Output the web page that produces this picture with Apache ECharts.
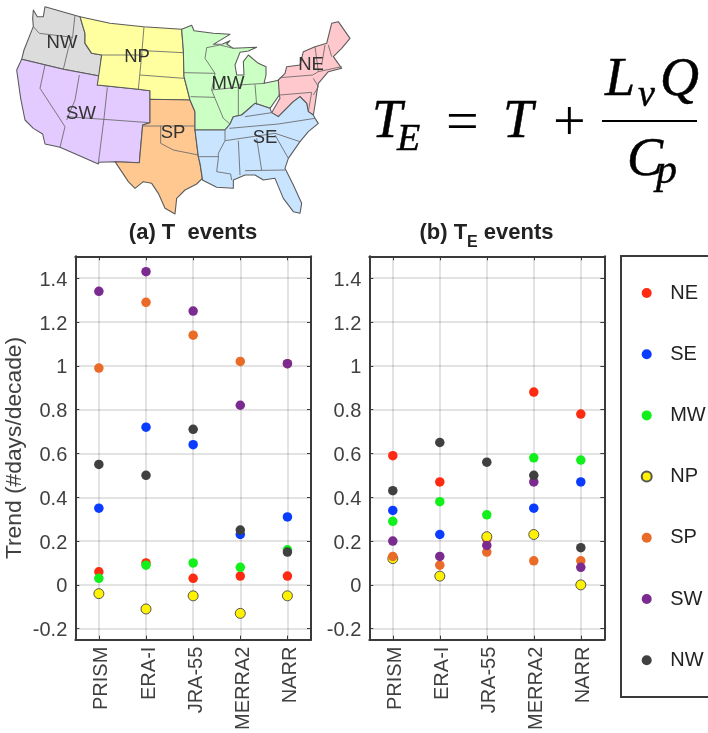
<!DOCTYPE html>
<html><head><meta charset="utf-8">
<style>html,body{margin:0;padding:0;background:#fff}#c{width:708px;height:733px;filter:blur(0.35px)}</style>
<script src="https://cdn.jsdelivr.net/npm/echarts@6/dist/echarts.min.js"></script>
</head><body><div id="c"></div>
<script>
// ---- data ----
const products = ['PRISM','ERA-I','JRA-55','MERRA2','NARR'];
const regions = ['NE','SE','MW','NP','SP','SW','NW'];
const yTicks = [-0.2,0,0.2,0.4,0.6,0.8,1,1.2,1.4];
const tNE = [0.06,0.10,0.03,0.04,0.04];
const tSE = [0.35,0.72,0.64,0.23,0.31];
const tMW = [0.03,0.09,0.10,0.08,0.16];
const tNP = [-0.04,-0.11,-0.05,-0.13,-0.05];
const tSP = [0.99,1.29,1.14,1.02,1.01];
const tSW = [1.34,1.43,1.25,0.82,1.01];
const tNW = [0.55,0.50,0.71,0.25,0.15];
const teNE = [0.59,0.47,0.21,0.88,0.78];
const teSE = [0.34,0.23,0.22,0.35,0.47];
const teMW = [0.29,0.38,0.32,0.58,0.57];
const teNP = [0.12,0.04,0.22,0.23,0.00];
const teSP = [0.13,0.09,0.15,0.11,0.11];
const teSW = [0.20,0.13,0.18,0.47,0.08];
const teNW = [0.43,0.65,0.56,0.50,0.17];
const colors = {NE:'#ff2a12',SE:'#0a3cff',MW:'#12f01c',NP:'#fff200',SP:'#ea6a28',SW:'#7b2a90',NW:'#404040'};
const panelA = {NE:tNE,SE:tSE,MW:tMW,NP:tNP,SP:tSP,SW:tSW,NW:tNW};
const panelB = {NE:teNE,SE:teSE,MW:teMW,NP:teNP,SP:teSP,SW:teSW,NW:teNW};

// ---- reference map illustration, outline points at 3x scale ----
const mapRegions = [
 {fill:'#dcdcdc',pts:[[100,30],[112,50],[130,50],[135,20],[240,50],[255,100],[255,130],[275,160],[305,165],[298,228],[190,208],[65,178],[72,150],[95,92],[100,80],[98,55]]},
 {fill:'#e3caff',pts:[[65,178],[190,208],[298,228],[292,255],[415,268],[450,272],[450,368],[428,375],[418,488],[345,485],[297,487],[295,492],[180,442],[135,432],[128,402],[100,385],[75,360],[62,295],[50,210]]},
 {fill:'#ffff9f',pts:[[240,50],[330,70],[430,80],[545,88],[550,150],[552,230],[570,300],[450,298],[450,272],[415,268],[292,255],[305,165],[275,160],[255,130],[255,100]]},
 {fill:'#ffc890',pts:[[450,298],[570,300],[585,335],[585,390],[595,470],[600,490],[607,535],[590,552],[555,570],[530,595],[525,642],[495,625],[475,580],[455,550],[430,545],[405,565],[385,545],[345,485],[418,488],[428,375],[450,368]]},
 {fill:'#ccffc4',pts:[[545,88],[575,76],[582,92],[640,100],[690,103],[640,133],[668,132],[690,122],[680,132],[700,145],[770,142],[745,153],[720,157],[705,195],[710,225],[732,225],[730,185],[745,165],[775,190],[798,200],[798,225],[792,250],[840,240],[838,285],[810,325],[765,310],[725,345],[700,350],[690,372],[675,390],[585,390],[585,335],[570,300],[552,230],[550,150]]},
 {fill:'#ffc8cc',pts:[[835,240],[855,220],[860,200],[900,195],[910,155],[945,140],[980,130],[995,70],[1015,65],[1050,115],[1025,145],[1000,170],[1025,205],[985,215],[955,250],[950,280],[945,315],[940,345],[925,335],[920,310],[900,290],[880,305],[835,350],[815,338],[840,295],[838,285]]},
 {fill:'#c8e4ff',pts:[[675,390],[690,372],[700,350],[725,345],[765,310],[810,325],[815,338],[835,350],[880,305],[900,290],[920,310],[925,335],[940,345],[945,355],[955,370],[925,395],[900,425],[865,475],[855,505],[880,555],[905,610],[900,640],[880,635],[850,595],[825,535],[790,540],[765,525],[735,525],[700,540],[700,565],[650,562],[607,540],[607,535],[600,490],[595,470],[585,390]]}
];
const stateLines = [
 [[100,80],[118,100],[218,112]],[[225,45],[218,110],[205,145],[190,208]],
 [[432,80],[425,165],[415,268]],[[305,165],[430,165]],[[430,152],[550,158]],[[420,225],[552,235]],
 [[135,195],[120,265],[195,380],[180,442]],[[238,225],[225,300],[200,360]],[[322,262],[312,355],[295,490]],[[200,350],[448,368]],
 [[428,378],[585,378]],[[482,378],[482,430],[520,450],[595,465]],
 [[552,218],[645,220]],[[572,290],[645,292]],[[620,143],[615,175],[645,220],[635,270],[645,295],[670,355],[690,372]],[[635,270],[712,262]],[[715,255],[715,345]],[[715,255],[795,250]],[[765,253],[770,315]],[[620,143],[660,135],[700,145]],
 [[675,390],[675,422],[655,460],[655,475],[650,515],[692,522],[695,540]],[[595,470],[655,470]],[[688,385],[835,372],[945,355]],[[675,422],[825,400]],[[825,400],[900,425]],[[825,405],[865,475]],[[715,422],[720,525]],[[770,415],[785,510]],[[735,512],[855,510]],[[735,350],[815,338]],
 [[840,233],[938,225]],[[840,285],[935,277]],[[945,140],[955,215],[938,225]],[[975,135],[965,195]],[[985,135],[995,170]],[[955,215],[1025,200]],[[940,235],[955,260],[940,285]],[[935,277],[925,335]]
];
const mapLabels = [['NW',62,43],['NP',137,57],['SW',81,114],['SP',173,133],['MW',228,84],['NE',311,65],['SE',265,138]];

// ---- styling helpers ----
const ink = '#3a3a3a', txt = '#404040', font = 'Liberation Sans';
const gridLine = {show:true,lineStyle:{color:'rgba(0,0,0,0.11)',width:2}};
function xAxis(i,pos,labels){return {
  gridIndex:i,type:'category',data:products,position:pos,boundaryGap:true,
  axisLine:{show:true,onZero:false,lineStyle:{color:ink,width:2}},
  axisTick:{show:true,inside:true,length:4,alignWithLabel:true,lineStyle:{color:ink,width:1}},
  axisLabel:{show:labels,rotate:90,interval:0,margin:7,fontSize:20,fontFamily:font,color:txt,
    formatter:v=>'{a|'+v+'}',
    rich:{a:{fontSize:20,fontFamily:font,color:txt,padding:[6,0,0,0]}}},
  splitLine:labels?{show:true,alignWithLabel:true,interval:0,lineStyle:gridLine.lineStyle}:{show:false}
};}
function yAxis(i,pos,labels,name){return {
  gridIndex:i,type:'value',position:pos,min:-0.25,max:1.5,
  name:name||'',nameLocation:'middle',nameRotate:90,nameGap:49,
  nameTextStyle:{fontSize:22.8,fontFamily:font,color:txt},
  axisLine:{show:true,onZero:false,lineStyle:{color:ink,width:2}},
  axisTick:{show:true,inside:true,length:4,customValues:yTicks,lineStyle:{color:ink,width:1}},
  axisLabel:{show:labels,margin:8,fontSize:20,fontFamily:font,color:txt,customValues:yTicks,
    formatter:v=>'{a|'+(Math.round(v*10)/10)+'}',
    rich:{a:{fontSize:20,fontFamily:font,color:txt,padding:[4,0,0,0]}}},
  splitLine:labels?gridLine:{show:false}
};}
function seriesFor(panel,i){return regions.map(r=>({
  name:r,type:'scatter',xAxisIndex:i*2,yAxisIndex:i*2,data:panel[r],symbolSize:r==='NP'?10:9.5,
  itemStyle:{color:colors[r],opacity:1,borderColor:r==='NP'?'#555':colors[r],borderWidth:r==='NP'?1:0},
  emphasis:{disabled:true},z:3
}));}

const mapChildren = [];
mapRegions.forEach(m=>mapChildren.push({type:'polygon',shape:{points:m.pts},style:{fill:m.fill,stroke:'#5a5a5a',lineWidth:3.2,lineJoin:'round'}}));
stateLines.forEach(l=>mapChildren.push({type:'polyline',shape:{points:l},style:{fill:null,stroke:'#6a6a6a',lineWidth:2.6}}));

const serif = 'Liberation Serif';
function eq(t,x,y,size){return {type:'text',x:x,y:y,style:{text:t,fontFamily:serif,fontStyle:'italic',fontSize:size,fill:'#000',stroke:'#000',lineWidth:0.5,textVerticalAlign:'middle',textAlign:'left'}};}
function eqUp(t,x,y,size){return {type:'text',x:x,y:y,style:{text:t,fontFamily:serif,fontSize:size,fill:'#000',textVerticalAlign:'middle',textAlign:'left'}};}

const graphic = [
 {type:'group',x:0,y:0,scaleX:1/3,scaleY:1/3,children:mapChildren},
 ...mapLabels.map(l=>({type:'text',x:l[1],y:l[2],style:{text:l[0],fontFamily:font,fontSize:18.5,fill:'#333',textAlign:'center',textVerticalAlign:'middle'}})),
 eq('T',372,123,54),eq('E',397,140,38),eqUp('=',446,125,58),eq('T',503,123,54),eqUp('+',553,125,58),
 {type:'rect',shape:{x:602,y:120,width:95,height:2},style:{fill:'#000'}},
 eq('L',605,81,54),eq('v',638,96,38),eq('Q',660,81,54),eq('C',627,161,54),eq('p',656,172,42),
 {type:'rect',shape:{x:621,y:256,width:120,height:441},style:{fill:'none',stroke:ink,lineWidth:2}}
];

const chart = echarts.init(document.getElementById('c'),null,{renderer:'canvas'});
const rich = {
  m:{fontFamily:font,fontWeight:'bold',fontSize:22,color:'#222',lineHeight:24,verticalAlign:'top'},
  s:{fontFamily:font,fontWeight:'bold',fontSize:16,color:'#222',lineHeight:20,verticalAlign:'top',padding:[13,0,0,0]}
};
chart.setOption({
  animation:false,backgroundColor:'#fff',
  title:[
   {text:'{m|(a) T  events}',left:193,top:222,textAlign:'center',padding:0,textStyle:{rich:rich}},
   {text:'{m|(b) T}{s|E}{m| events}',left:486.5,top:222,textAlign:'center',padding:0,textStyle:{rich:rich}}
  ],
  legend:{data:regions,orient:'vertical',left:640.7,top:283,padding:0,itemWidth:10,itemHeight:10,itemGap:41.2,icon:'circle',selectedMode:false,
    textStyle:{fontSize:20,fontFamily:font,color:'#222',lineHeight:20,padding:[0,0,0,13.5]}},
  grid:[
   {left:75.3,top:256.3,width:235.7,height:385.4,containLabel:false},
   {left:369.3,top:256.3,width:235,height:385.4,containLabel:false}
  ],
  xAxis:[xAxis(0,'bottom',true),xAxis(0,'top',false),xAxis(1,'bottom',true),xAxis(1,'top',false)],
  yAxis:[yAxis(0,'left',true,'Trend (#days/decade)'),yAxis(0,'right',false),yAxis(1,'left',true),yAxis(1,'right',false)],
  series:[...seriesFor(panelA,0),...seriesFor(panelB,1)],
  graphic:graphic
});
</script></body></html>
